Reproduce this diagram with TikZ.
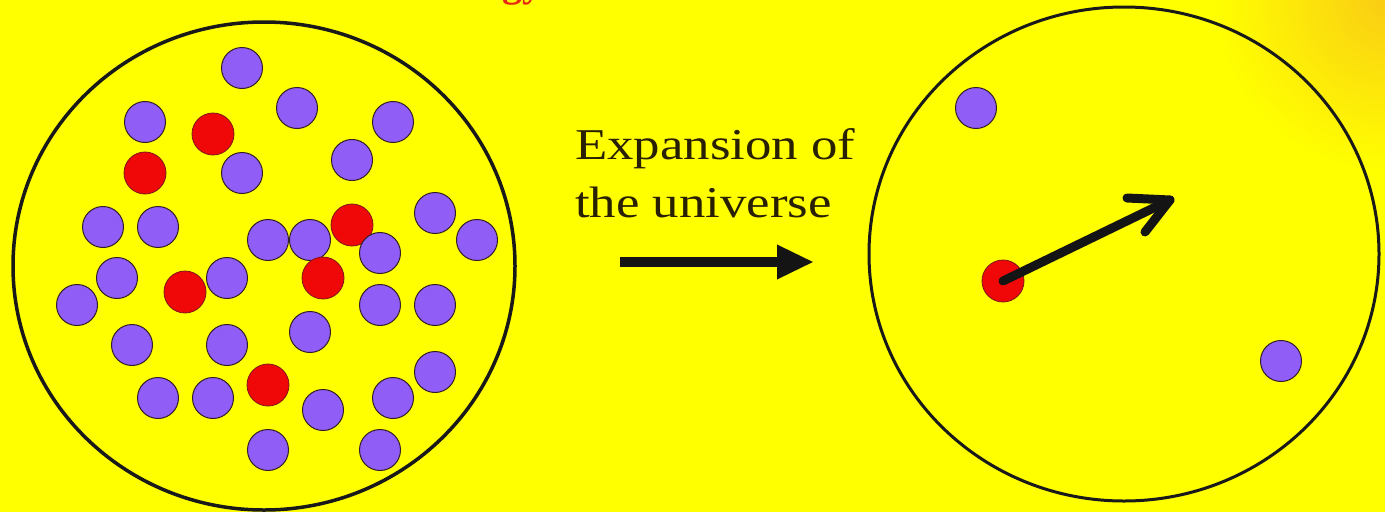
\documentclass[tikz,border=0pt]{standalone}
\usepackage{fontspec}
\setmainfont{Liberation Serif}
\usetikzlibrary{arrows.meta,shapes.geometric}
\definecolor{bgyellow}{RGB}{255,255,0}
\definecolor{bgorange}{RGB}{250,205,20}
\definecolor{dotpurple}{RGB}{144,94,246}
\definecolor{dotred}{RGB}{240,8,8}
\definecolor{dotline}{RGB}{50,30,40}
\definecolor{txtdark}{RGB}{40,32,0}
\definecolor{titlered}{RGB}{230,40,20}
\tikzset{
  pdot/.style={circle, fill=dotpurple, draw=dotline, line width=1pt, minimum size=41pt, inner sep=0pt},
  rdot/.style={circle, fill=dotred, draw=dotline!60!dotred, line width=0.8pt, minimum size=42pt, inner sep=0pt},
  bigring/.style={ellipse, draw=black!90, inner sep=0pt},
  label/.style={anchor=base west, text=txtdark, inner sep=0pt, font=\fontsize{44}{58}\selectfont},
  fatline/.style={line width=9pt, draw=black!92}
}
\begin{document}
\begin{tikzpicture}[x=1pt,y=-1pt]
\fill[bgyellow] (0,0) rectangle (1385,512);
\useasboundingbox (0,0) rectangle (1385,512);
\shade[inner color=bgorange, outer color=bgyellow] (1385,0) circle (170);
% cut-off title
\node[anchor=base west, text=titlered, inner sep=0pt, font=\bfseries\fontsize{40}{48}\selectfont] (title) at (502,-4) {gy};
% big circles
\node[bigring, line width=3.5pt, minimum width=502pt, minimum height=488pt] (L) at (264,266) {};
\node[bigring, line width=3pt, minimum width=510pt, minimum height=494pt] (R) at (1124,254) {};
% left circle dots
\node[pdot] (p1) at (242,68) {};
\node[pdot] (p2) at (297,108) {};
\node[pdot] (p3) at (145,122) {};
\node[pdot] (p4) at (393,122) {};
\node[rdot] (r1) at (213,134) {};
\node[pdot] (p5) at (242,173) {};
\node[pdot] (p6) at (352,160) {};
\node[rdot] (r2) at (145,173) {};
\node[pdot] (p7) at (103,227) {};
\node[pdot] (p8) at (158,227) {};
\node[pdot] (p9) at (268,240) {};
\node[pdot] (p10) at (310,240) {};
\node[rdot] (r3) at (352,225) {};
\node[pdot] (p11) at (435,213) {};
\node[pdot] (p12) at (477,240) {};
\node[pdot] (p13) at (380,253) {};
\node[pdot] (p14) at (117,278) {};
\node[pdot] (p15) at (227,278) {};
\node[rdot] (r4) at (185,292) {};
\node[rdot] (r5) at (323,278) {};
\node[pdot] (p16) at (77,305) {};
\node[pdot] (p17) at (380,305) {};
\node[pdot] (p18) at (435,305) {};
\node[pdot] (p19) at (310,332) {};
\node[pdot] (p20) at (132,345) {};
\node[pdot] (p21) at (227,345) {};
\node[pdot] (p22) at (435,372) {};
\node[rdot] (r6) at (268,385) {};
\node[pdot] (p23) at (158,398) {};
\node[pdot] (p24) at (213,398) {};
\node[pdot] (p25) at (323,410) {};
\node[pdot] (p26) at (393,398) {};
\node[pdot] (p27) at (268,450) {};
\node[pdot] (p28) at (380,450) {};
% label and middle arrow
\node[label] (t1) at (575,159) {\scalebox{1.2}[1]{Expansion of}};
\node[label] (t2) at (575,217) {\scalebox{1.2}[1]{the universe}};
\coordinate (ma) at (620,262);
\coordinate (mb) at (814,262);
\draw[line width=10pt, draw=black!92, -{Triangle[length=37pt,width=32pt]}] (ma) -- (mb);
% right circle dots
\node[pdot] (q1) at (976,108) {};
\node[pdot] (q2) at (1281,361) {};
\node[rdot] (q0) at (1003,281) {};
\coordinate (tip) at (1170,200);
\coordinate (arm1) at (1127,198);
\coordinate (arm2) at (1145,232);
\draw[fatline, line cap=round] (q0.center) -- (tip);
\draw[fatline, line cap=round, line join=round] (arm1) -- (tip) -- (arm2);
\end{tikzpicture}
\end{document}
